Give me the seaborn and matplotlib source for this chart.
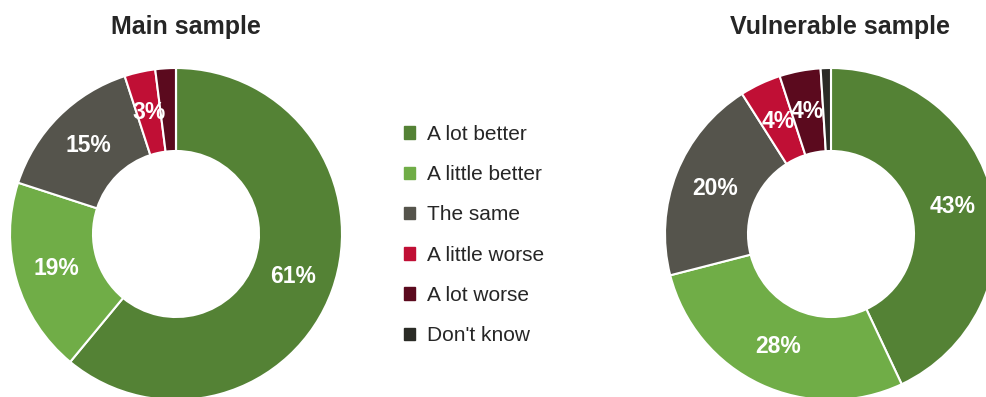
import matplotlib
matplotlib.use("Agg")
import matplotlib.pyplot as plt
import seaborn as sns

# categories and colours
categorias = ["A lot better", "A little better", "The same",
              "A little worse", "A lot worse", "Don't know"]
colores = ["#548235", "#70AD47", "#55544C", "#C00F35", "#5B0A1E", "#2A2B26"]

# percentages per sample
main_sample = [61, 19, 15, 3, 2, 0]
vulnerable_sample = [43, 28, 20, 4, 4, 1]

titulos = ["Main sample", "Vulnerable sample"]

sns.set_theme(style="white")
plt.rcParams["font.family"] = ["Liberation Sans", "DejaVu Sans"]

W, H = 986, 397
fig = plt.figure(figsize=(W / 100, H / 100), dpi=100)


def etiqueta(p):
    # small slices are left without a label
    return f"{p:.0f}%" if p >= 3 else ""


def donut(cx, cy, r, valores):
    ax = fig.add_axes([(cx - r) / W, (H - cy - r) / H, 2 * r / W, 2 * r / H])
    wedges, _, _ = ax.pie(
        valores, colors=colores, startangle=90, counterclock=False,
        radius=1, autopct=etiqueta, pctdistance=0.75,
        wedgeprops=dict(width=0.5, edgecolor="white", linewidth=1.5),
        textprops=dict(color="white", fontsize=16.5, fontweight="bold"),
    )
    ax.set_xlim(-1, 1)
    ax.set_ylim(-1, 1)
    ax.axis("off")
    return wedges


wedges = donut(176, 234, 166, main_sample)
donut(831, 234, 166, vulnerable_sample)

fig.text(186 / W, 1 - 27 / H, titulos[0], ha="center", va="center",
         fontsize=18, fontweight="bold", color="#262626")
fig.text(840 / W, 1 - 27 / H, titulos[1], ha="center", va="center",
         fontsize=18, fontweight="bold", color="#262626")

handles = [plt.Rectangle((0, 0), 1, 1, color=c) for c in colores]
fig.legend(handles, categorias, loc="upper left",
           bbox_to_anchor=(404 / W, 1 - 125 / H), frameon=False,
           fontsize=15, handlelength=0.55, handleheight=0.55,
           handletextpad=0.55, labelspacing=1.02, labelcolor="#262626",
           borderpad=0, borderaxespad=0)

fig.savefig("out.png", dpi=100)
